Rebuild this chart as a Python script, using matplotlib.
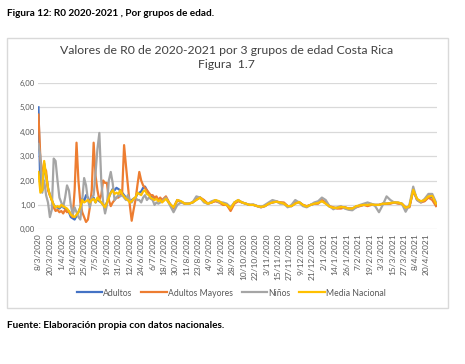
import pandas as pd
import matplotlib
matplotlib.use("Agg")
import matplotlib.pyplot as plt
from matplotlib.patches import Rectangle

plt.rcParams["font.family"] = ["Lato", "DejaVu Sans"]

# ---- data (days since 8/3/2020) ----
start_date = "2020-03-08"
days = list(range(0, 131, 2)) + list(range(134, 419, 4))

adultos = [
    5.0, 1.6, 1.6, 2.7, 2.2, 1.7, 1.4, 1.2, 1.0, 0.9, 0.9, 0.85, 0.95, 0.9, 0.85, 0.8,
    0.7, 0.5, 0.45, 0.4, 0.55, 0.7, 0.9, 1.25, 1.15, 1.4, 1.3, 1.1, 1.2, 1.3, 1.1, 1.25,
    1.15, 1.1, 1.0, 0.95, 1.1, 1.3, 1.5, 1.65, 1.6, 1.7, 1.65, 1.6, 1.5, 1.4, 1.3, 1.2,
    1.15, 1.2, 1.25, 1.3, 1.45, 1.5, 1.55, 1.7, 1.75, 1.6, 1.45, 1.35, 1.3, 1.25, 1.3,
    1.2, 1.25, 1.15,
    1.28, 1.05, 0.88, 1.2, 1.13, 1.05, 1.05, 1.1, 1.22, 1.3, 1.17, 1.05, 1.1, 1.18, 1.13,
    1.05, 1.0, 0.83, 1.1, 1.18, 1.1, 1.05, 1.0, 1.0, 0.95, 0.92, 0.95, 1.05, 1.1, 1.13,
    1.1, 1.07, 0.95, 0.95, 1.07, 1.12, 1.0, 0.93, 1.0, 1.05, 1.07, 1.17, 1.07, 0.93,
    0.88, 0.87, 0.9, 0.9, 0.85, 0.85, 0.93, 0.97, 1.0, 1.0, 1.02, 1.0, 1.0, 1.05, 1.05,
    1.07, 1.1, 1.08, 1.05, 0.88, 0.93, 1.6, 1.23, 1.13, 1.18, 1.33, 1.33, 1.0,
]
adultos_mayores = [
    4.7, 2.9, 2.4, 2.5, 2.4, 1.6, 1.4, 1.2, 0.9, 0.75, 0.8, 0.7, 0.75, 0.65, 0.8, 0.7,
    0.75, 0.6, 0.5, 1.6, 3.55, 2.0, 1.1, 0.7, 0.5, 0.3, 0.4, 0.9, 1.6, 3.55, 2.2, 1.6,
    1.2, 1.4, 2.0, 1.9, 1.9, 1.2, 0.95, 1.1, 1.2, 1.3, 1.3, 1.4, 1.5, 3.45, 2.6, 1.8,
    1.0, 0.35, 0.8, 1.2, 1.8, 2.35, 2.0, 1.8, 1.7, 1.6, 1.5, 1.4, 1.4, 1.3, 1.35, 1.2,
    1.3, 1.2,
    1.35, 1.05, 0.85, 1.2, 1.1, 1.05, 1.05, 1.1, 1.25, 1.3, 1.2, 1.05, 1.1, 1.15, 1.1,
    1.0, 1.0, 0.75, 1.05, 1.15, 1.1, 1.05, 1.0, 1.0, 0.95, 0.9, 0.95, 1.05, 1.1, 1.15,
    1.1, 1.1, 0.95, 0.95, 1.1, 1.1, 1.0, 0.95, 1.0, 1.05, 1.05, 1.2, 1.1, 0.95,
    0.9, 0.85, 0.85, 0.9, 0.85, 0.85, 0.9, 0.95, 1.0, 0.95, 1.0, 1.0, 1.0, 1.05, 1.05,
    1.05, 1.1, 1.05, 1.05, 0.9, 0.9, 1.6, 1.2, 1.1, 1.15, 1.3, 1.2, 0.95,
]
ninos = [
    3.5, 3.0, 1.5, 2.0, 1.4, 1.1, 0.5, 0.8, 2.9, 2.8, 2.0, 1.3, 1.1, 0.9, 1.3, 1.8,
    1.6, 1.0, 0.6, 0.9, 0.7, 0.5, 0.4, 1.2, 2.1, 1.8, 1.2, 0.9, 1.3, 1.4, 2.3, 3.3,
    3.95, 2.0, 1.1, 0.65, 1.0, 2.0, 2.35, 1.9, 1.2, 1.3, 1.4, 1.35, 1.4, 1.3, 1.2, 1.4,
    1.2, 1.1, 1.25, 1.3, 1.2, 1.2, 1.1, 1.3, 1.4, 1.2, 1.3, 1.25, 1.2, 1.0, 1.1,
    1.05, 1.1, 1.15,
    1.3, 1.0, 0.7, 1.0, 1.1, 1.05, 1.05, 1.1, 1.35, 1.3, 1.1, 1.05, 1.15, 1.2, 1.1,
    1.1, 1.05, 0.9, 1.1, 1.2, 1.1, 1.05, 1.0, 1.02, 0.95, 0.9, 1.0, 1.1, 1.2, 1.15,
    1.05, 1.05, 0.9, 1.0, 1.2, 1.1, 0.95, 0.9, 1.0, 1.1, 1.15, 1.3, 1.2, 0.95,
    0.82, 0.9, 0.95, 0.85, 0.8, 0.78, 0.9, 1.0, 1.05, 1.1, 1.05, 0.95, 0.7, 1.0, 1.35,
    1.2, 1.1, 1.1, 1.05, 0.72, 1.0, 1.75, 1.2, 1.1, 1.25, 1.45, 1.45, 1.1,
]
media_nacional = [
    2.35, 1.5, 1.6, 2.8, 2.2, 1.7, 1.4, 1.2, 1.0, 0.9, 0.95, 0.9, 1.0, 0.95, 0.9, 0.85,
    0.75, 0.6, 0.55, 0.5, 0.6, 0.7, 0.9, 1.2, 1.1, 1.15, 1.2, 1.1, 1.2, 1.25, 1.1, 1.3,
    1.2, 1.1, 1.0, 0.9, 1.1, 1.3, 1.5, 1.6, 1.45, 1.5, 1.45, 1.6, 1.45, 1.35, 1.25, 1.2,
    1.1, 1.15, 1.25, 1.3, 1.5, 1.45, 1.4, 1.55, 1.6, 1.45, 1.4, 1.3, 1.25, 1.2, 1.25,
    1.15, 1.2, 1.1,
    1.25, 1.05, 0.9, 1.2, 1.15, 1.05, 1.05, 1.1, 1.2, 1.3, 1.15, 1.05, 1.1, 1.2, 1.15,
    1.05, 1.0, 0.85, 1.1, 1.2, 1.1, 1.05, 1.0, 1.0, 0.95, 0.92, 0.95, 1.05, 1.1, 1.13,
    1.1, 1.05, 0.95, 0.95, 1.05, 1.12, 1.0, 0.93, 1.0, 1.05, 1.08, 1.15, 1.05, 0.93,
    0.88, 0.88, 0.92, 0.9, 0.85, 0.85, 0.95, 0.98, 1.0, 1.0, 1.02, 1.0, 1.0, 1.05, 1.05,
    1.08, 1.1, 1.1, 1.05, 0.88, 0.95, 1.62, 1.25, 1.15, 1.2, 1.35, 1.37, 1.05,
]

series = [
    ("Adultos", adultos, "#4472C4"),
    ("Adultos Mayores", adultos_mayores, "#ED7D31"),
    ("Niños", ninos, "#A5A5A5"),
    ("Media Nacional", media_nacional, "#FFC000"),
]

dates = pd.Timestamp(start_date) + pd.to_timedelta(days, unit="D")
tick_dates = pd.date_range(start_date, "2021-04-20", freq="12D")

W, H = 465, 364
fig = plt.figure(figsize=(W / 100, H / 100), dpi=100)
fig.patch.set_facecolor("white")

# chart frame
fig.add_artist(Rectangle((7 / W, 1 - 308 / H), 441 / W, 270 / H, transform=fig.transFigure,
                         facecolor="none", edgecolor="#D9D9D9", linewidth=1.0, zorder=-1))

ax = fig.add_axes([38 / W, 1 - 229.3 / H, 399 / W, 146.4 / H])
ax.patch.set_alpha(0)
for name, vals, color in series:
    ax.plot(dates, vals, color=color, linewidth=1.6, label=name, solid_joinstyle="round")

ax.set_ylim(0, 6)
ax.set_yticks(range(0, 7))
ax.set_yticklabels([f"{v},00" for v in range(0, 7)])
ax.set_xlim(pd.Timestamp(start_date) - pd.Timedelta(days=0.5), pd.Timestamp(start_date) + pd.Timedelta(days=419))
ax.set_xticks(tick_dates)
ax.set_xticklabels([f"{d.day}/{d.month}/{d.year}" for d in tick_dates], rotation=90)
ax.grid(axis="y", color="#D9D9D9", linewidth=0.9)
ax.set_axisbelow(True)
for s in ax.spines.values():
    s.set_visible(False)
ax.tick_params(length=0, labelsize=5.6, labelcolor="#595959", pad=2)
ax.tick_params(axis="x", labelsize=6.0, pad=3)

fig.text(0.487, 1 - 50 / H, "Valores de R0 de 2020-2021 por 3 grupos de edad Costa Rica",
         ha="center", va="center", fontsize=8.8, color="#404040")
fig.text(0.487, 1 - 65 / H, "Figura  1.7", ha="center", va="center", fontsize=8.8, color="#404040")

fig.text(7 / W, 1 - 14 / H, "Figura 12: R0 2020-2021 , Por grupos de edad.",
         ha="left", va="center", fontsize=7.2, fontweight="bold", color="black")
fig.text(7 / W, 1 - 325 / H, "Fuente: Elaboración propia con datos nacionales.",
         ha="left", va="center", fontsize=7.2, fontweight="bold", color="black")

fig.legend(loc="center", bbox_to_anchor=(0.497, 1 - 293 / H), ncol=4, frameon=False,
           fontsize=6.2, labelcolor="#595959", handlelength=3.0, handletextpad=0.1,
           columnspacing=1.0)

fig.savefig("out.png", dpi=100)
